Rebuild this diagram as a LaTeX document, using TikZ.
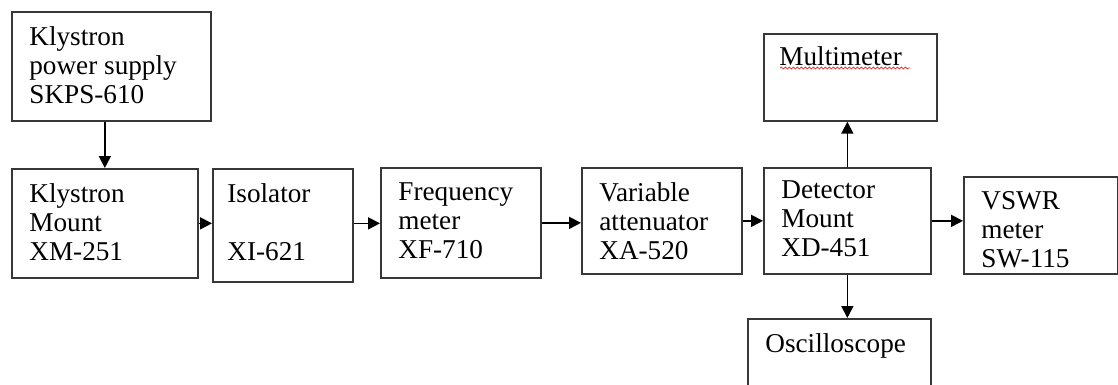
\documentclass[tikz,border=0pt]{standalone}
\usepackage{fontspec}
\setmainfont{Liberation Serif}
\usetikzlibrary{arrows.meta, decorations.pathmorphing}
\definecolor{boxGray}{RGB}{55, 55, 55}
\definecolor{spellRed}{RGB}{230, 40, 40}
\tikzset{
  blk/.style={rectangle, draw=boxGray, line width=0.85pt,
              anchor=north west, inner sep=0pt},
  blktext/.style={anchor=north west, align=left, inner sep=0pt,
                  xshift=9pt, yshift=-7.5pt,
                  font=\fontsize{13.6}{14.5}\selectfont},
  arr/.style={-{Triangle[length=6pt, width=6pt]}, line width=0.85pt},
}
\begin{document}
\begin{tikzpicture}[x=0.5pt, y=-0.5pt]
    \clip (0,0) rectangle (1118,385);
    \fill[white] (0,0) rectangle (1118,385);

    % top-left supply and main bench line
    \node[blk, minimum width=99.5pt, minimum height=54.5pt,
          label={[blktext]north west:{Klystron\\power supply\\SKPS-610}}] (kps) at (11,11) {};
    \node[blk, minimum width=93pt, minimum height=54.5pt,
          label={[blktext]north west:{Klystron\\Mount\\XM-251}}] (km) at (11,168) {};
    \node[blk, minimum width=70pt, minimum height=56.5pt,
          label={[blktext, xshift=-1.5pt]north west:{Isolator\\\mbox{}\\XI-621}}] (iso) at (212,168) {};
    \node[blk, minimum width=80pt, minimum height=55pt,
          label={[blktext]north west:{Frequency\\meter\\XF-710}}] (fm) at (380,167) {};
    \node[blk, minimum width=80pt, minimum height=53pt,
          label={[blktext]north west:{Variable\\attenuator\\XA-520}}] (va) at (581,167) {};
    \node[blk, minimum width=83.5pt, minimum height=53pt,
          label={[blktext, yshift=1pt]north west:{Detector\\Mount\\XD-451}}] (dm) at (763,167) {};

    % outputs of the detector
    \node[blk, minimum width=86.5pt, minimum height=43.5pt,
          label={[blktext, xshift=-1pt, yshift=1pt]north west:{Multimeter}}] (mm) at (763,33) {};
    \node[blk, minimum width=77pt, minimum height=48.5pt,
          label={[blktext]north west:{VSWR\\meter\\SW-115}}] (vswr) at (963,176) {};
    \node[blk, minimum width=91.5pt, minimum height=50pt,
          label={[blktext]north west:{Oscilloscope}}] (osc) at (747,318) {};

    \draw[spellRed, line width=0.35pt, decorate,
          decoration={snake, amplitude=0.5pt, segment length=2pt}] (780,68) -- (910,68);

    \draw[arr] (kps.south -| km.north) -- (km.north);
    \draw[arr] (km.east) -- (km.east -| iso.west);
    \draw[arr] (iso.east |- km.east) -- (km.east -| fm.west);
    \draw[arr] (fm.east) -- (fm.east -| va.west);
    \draw[arr] (va.east) -- (va.east -| dm.west);
    \draw[arr] (dm.east) -- (dm.east -| vswr.west);
    \draw[arr] (dm.north) -- (dm.north |- mm.south);
    \draw[arr] (dm.south) -- (dm.south |- osc.north);
\end{tikzpicture}
\end{document}
